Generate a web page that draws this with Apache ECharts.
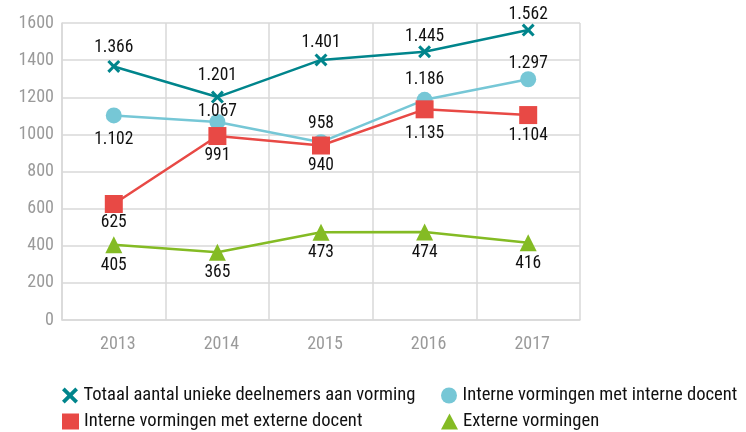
<!DOCTYPE html>
<html>
<head>
<meta charset="utf-8">
<script src="https://cdn.jsdelivr.net/npm/echarts@6/dist/echarts.min.js"></script>
<style>
  html, body { margin: 0; padding: 0; background: #fff; }
  #chart { width: 746px; height: 432px; }
</style>
</head>
<body>
<div id="chart"></div>
<script>
// data
var years = ['2013', '2014', '2015', '2016', '2017'];
var totaal = [1366, 1201, 1401, 1445, 1562];
var interneIntern = [1102, 1067, 958, 1186, 1297];
var interneExtern = [625, 991, 940, 1135, 1104];
var externe = [405, 365, 473, 474, 416];
var yTicks = [0, 200, 400, 600, 800, 1000, 1200, 1400, 1600];

// label placement per point: [position, distance]
var posTotaal = [['top', 3], ['top', 6], ['top', 2], ['top', 0], ['top', 0]];
var posIntern = [['bottom', 7], ['top', -7], ['top', 2], ['top', 3], ['top', -1]];
var posExtern = [['bottom', 1], ['bottom', 2], ['bottom', 2], ['bottom', 6], ['bottom', 3]];
var posExterne = [['bottom', 3], ['bottom', 3], ['bottom', 3], ['bottom', 3], ['bottom', 3]];

var FONT = '"Liberation Sans Narrow", "Roboto Condensed", "Liberation Sans", sans-serif';
var crossPath = 'path://M2,0L6,4L10,0L12,2L8,6L12,10L10,12L6,8L2,12L0,10L4,6L0,2Z';

function nl(v) {
    // dutch thousands separator
    var s = String(v);
    if (s.length > 3) s = s.slice(0, s.length - 3) + '.' + s.slice(s.length - 3);
    return s;
}

function mkData(vals, pos) {
    return vals.map(function (v, i) {
        return {
            value: v,
            label: { position: pos[i][0], distance: pos[i][1] }
        };
    });
}

function mkSeries(name, vals, pos, color, symbol, size) {
    return {
        name: name,
        type: 'line',
        data: mkData(vals, pos),
        symbol: symbol,
        symbolSize: size,
        lineStyle: { color: color, width: 2.5 },
        itemStyle: { color: color },
        label: {
            show: true,
            color: '#111',
            fontFamily: FONT,
            fontSize: 17.5,
            formatter: function (p) { return nl(p.value); }
        },
        z: 3
    };
}

var chart = echarts.init(document.getElementById('chart'));

var legendText = { color: '#111', fontFamily: FONT, fontSize: 18.6 };
var names = [
    'Totaal aantal unieke deelnemers aan vorming',
    'Interne vormingen met interne docent',
    'Interne vormingen met externe docent',
    'Externe vormingen'
];
var icons = [crossPath, 'circle', 'rect', 'triangle'];

function mkLegend(i, left, top) {
    return {
        data: [{ name: names[i], icon: icons[i] }],
        left: left, top: top,
        itemWidth: 17, itemHeight: 16,
        textStyle: legendText
    };
}

var option = {
    animation: false,
    grid: { left: 62, right: 166, top: 23, bottom: 112 },
    legend: [
        mkLegend(0, 57, 381),
        mkLegend(1, 436, 381),
        mkLegend(2, 57, 407),
        mkLegend(3, 436, 407)
    ],
    xAxis: {
        type: 'category',
        data: years,
        boundaryGap: true,
        axisLine: { lineStyle: { color: '#d9d9d9', width: 1.5 } },
        axisTick: { show: false },
        splitLine: { show: true, lineStyle: { color: '#d9d9d9', width: 1.5 } },
        axisLabel: {
            color: '#9a9a9a', fontFamily: FONT, fontSize: 18, margin: 15,
            padding: [0, 0, 0, 8]
        }
    },
    yAxis: {
        type: 'value',
        min: yTicks[0],
        max: yTicks[yTicks.length - 1],
        interval: 200,
        axisLine: { show: true, lineStyle: { color: '#d9d9d9', width: 1.5 } },
        axisTick: { show: false },
        splitLine: { lineStyle: { color: '#d9d9d9', width: 1.5 } },
        axisLabel: {
            color: '#9a9a9a', fontFamily: FONT, fontSize: 18, margin: 8,
            formatter: function (v) { return String(v); }
        }
    },
    series: [
        mkSeries(names[0], totaal, posTotaal, '#00858c', crossPath, 13),
        mkSeries(names[1], interneIntern, posIntern, '#76c7d6', 'circle', 16),
        mkSeries(names[2], interneExtern, posExtern, '#e84945', 'rect', 18),
        mkSeries(names[3], externe, posExterne, '#84bb24', 'triangle', 17)
    ]
};

chart.setOption(option);
</script>
</body>
</html>
